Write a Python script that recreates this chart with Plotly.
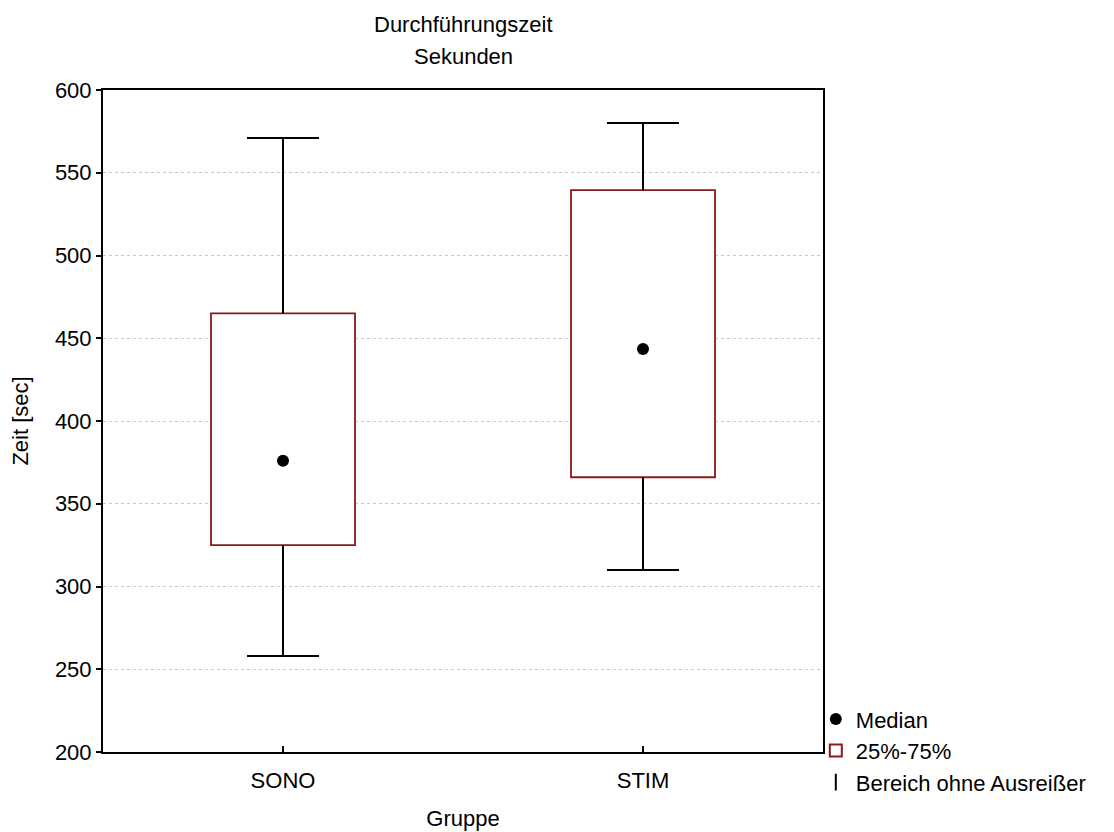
import plotly.graph_objects as go

# Durchführungszeit je Gruppe (Sekunden)
gruppen = ["SONO", "STIM"]
median = [376, 443.5]
q1 = [325, 366]
q3 = [465, 539.5]
minimum = [258, 310]
maximum = [571, 580]

y_ticks = [200, 250, 300, 350, 400, 450, 500, 550, 600]

FONT = "Liberation Sans, Arial, sans-serif"
FS = 22
BOX_COLOR = "#8B1A1A"
BOX_WIDTH = 0.4
CAP_HALF = 0.1

pos = list(range(len(gruppen)))

# whisker lines (box edge -> extreme) plus horizontal caps
wx, wy = [], []
for i, lo, hi, a, b in zip(pos, minimum, maximum, q1, q3):
    wx += [i, i, None, i, i, None]
    wy += [b, hi, None, a, lo, None]
    wx += [i - CAP_HALF, i + CAP_HALF, None, i - CAP_HALF, i + CAP_HALF, None]
    wy += [hi, hi, None, lo, lo, None]

fig = go.Figure()

fig.add_trace(go.Scatter(
    x=pos, y=median, mode="markers", name="Median",
    marker=dict(color="black", size=12, symbol="circle"),
))

fig.add_trace(go.Bar(
    x=pos, y=[b - a for a, b in zip(q1, q3)], base=q1, width=BOX_WIDTH,
    name="25%-75%",
    marker=dict(color="white", line=dict(color=BOX_COLOR, width=1.8)),
))

fig.add_trace(go.Scatter(
    x=wx, y=wy, mode="lines", showlegend=False,
    line=dict(color="black", width=2),
))

# legend entry for the whisker range
fig.add_trace(go.Scatter(
    x=[None], y=[None], mode="markers", name="Bereich ohne Ausreißer",
    marker=dict(symbol="line-ns-open", size=18, color="black",
                line=dict(color="black", width=2)),
))

fig.update_layout(
    width=1114, height=832,
    margin=dict(l=103, r=291, t=90, b=80, autoexpand=False),
    paper_bgcolor="white", plot_bgcolor="white",
    font=dict(family=FONT, size=FS, color="black"),
    showlegend=True,
    legend=dict(
        x=0.99, y=0.002, xanchor="left", yanchor="middle",
        bgcolor="rgba(0,0,0,0)", font=dict(size=FS),
        traceorder="normal", itemsizing="constant",
        tracegroupgap=0, borderwidth=0,
    ),
    annotations=[
        dict(text="Durchführungszeit", xref="paper", yref="paper",
             x=0.5, y=1, yshift=66, xanchor="center", yanchor="middle",
             showarrow=False, font=dict(size=FS)),
        dict(text="Sekunden", xref="paper", yref="paper",
             x=0.5, y=1, yshift=34, xanchor="center", yanchor="middle",
             showarrow=False, font=dict(size=FS)),
    ],
)

fig.update_xaxes(
    range=[-0.5, 1.5], automargin=False,
    tickmode="array", tickvals=pos, ticktext=gruppen,
    ticks="inside", ticklen=6, tickcolor="black", tickwidth=1.5,
    ticklabelstandoff=8, tickfont=dict(size=FS),
    showline=True, linecolor="black", linewidth=2, mirror=True,
    showgrid=False, zeroline=False,
    title=dict(text="Gruppe", standoff=18, font=dict(size=FS)),
)

fig.update_yaxes(
    range=[200, 600], automargin=False,
    tickmode="array", tickvals=y_ticks,
    ticks="outside", ticklen=5, tickcolor="black", tickwidth=1.5,
    tickfont=dict(size=FS),
    showline=True, linecolor="black", linewidth=2, mirror=True,
    showgrid=True, gridcolor="#c8c8c8", gridwidth=1, griddash="dot",
    zeroline=False,
    title=dict(text="Zeit [sec]", standoff=20, font=dict(size=FS)),
)

fig.write_html("out.html")
